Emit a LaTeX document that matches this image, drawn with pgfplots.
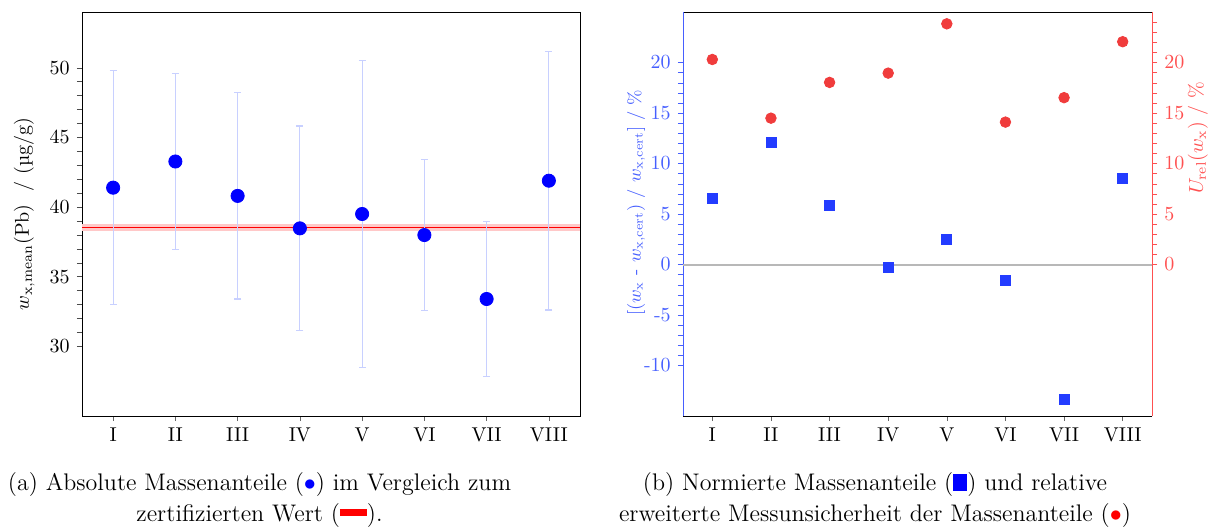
\documentclass[border=0pt]{standalone}
\usepackage{pgfplots}
\pgfplotsset{compat=1.18}
\usepackage{pgfplotstable}
\definecolor{errblue}{RGB}{200,208,255}
\definecolor{bandred}{RGB}{255,200,200}
\definecolor{sqblue}{RGB}{35,60,255}
\definecolor{dotred}{RGB}{240,60,60}
\definecolor{axblue}{RGB}{70,95,255}
\definecolor{axred}{RGB}{255,80,80}

\pgfplotstableread{
x y ep em
1 41.39 8.40 8.40
2 43.27 6.30 6.30
3 40.80 7.40 7.40
4 38.47 7.35 7.35
5 39.50 11.03 11.03
6 37.99 5.40 5.40
7 33.40 5.56 5.56
8 41.89 9.28 9.28
}\abs

\pgfplotstableread{
x d u
1 6.53 20.30
2 12.12 14.49
3 5.84 18.03
4 -0.26 18.95
5 2.45 23.83
6 -1.58 14.10
7 -13.40 16.52
8 8.49 22.06
}\rel

\begin{document}
\begin{tikzpicture}
\useasboundingbox (0,0) rectangle (604.5pt,263.5pt);
\pgfplotsset{
  every axis/.append style={scale only axis, height=202pt, xmin=0.5, xmax=8.5,
    xtick={1,...,8}, xticklabels={I,II,III,IV,V,VI,VII,VIII},
    xtick pos=bottom, tick align=outside, major tick length=2.6pt, minor tick length=2.6pt,
    x tick style={black!60}},
}
% ---------- (a) ----------
\begin{axis}[
  at={(41pt,55.5pt)}, anchor=south west, width=249pt,
  ymin=25, ymax=54, ytick={30,35,...,50}, minor y tick num=4,
  ytick pos=left, y tick style={black!70},
  ylabel={$w_{\mathrm{x,mean}}$(Pb)\ \ / (µg/g)},
  ylabel style={at={(axis description cs:-0.116,0.5)}, anchor=center},
]
\addplot[bandred, line width=3.4pt, forget plot] coordinates {(0.5,38.53) (8.5,38.53)};
\addplot[red, line width=0.5pt, forget plot] coordinates {(0.5,38.53) (8.5,38.53)};
\addplot[only marks, mark=*, mark size=3.3pt, mark options={blue, draw=blue, fill=blue},
  error bars/.cd, y dir=both, y explicit,
  error bar style={errblue, line width=0.6pt},
  error mark options={rotate=90, errblue, mark size=1.8pt, line width=0.6pt}]
  table[x=x, y=y, y error plus=ep, y error minus=em] {\abs};
\end{axis}
\node[anchor=base] at (129.75pt,18.25pt) {\fontsize{12}{14.5}\selectfont (a) Absolute Massenanteile (\textcolor{blue}{$\bullet$}) im Vergleich zum};
\node[anchor=base] at (129.75pt,2.75pt) {\fontsize{12}{14.5}\selectfont zertifizierten Wert (\textcolor{red}{\rule[0.22em]{13.5pt}{3.5pt}}).};
% ---------- (b) ----------
\begin{axis}[
  at={(341.5pt,55.5pt)}, anchor=south west, width=234.5pt,
  ymin=-15, ymax=25, ytick={-10,-5,0,5,10,15,20}, yticklabels={-10,-5,0,5,10,15,20},
  minor y tick num=4,
  ytick pos=left, separate axis lines,
  y axis line style={axblue}, y tick style={axblue}, yticklabel style={axblue},
  ylabel={\fontsize{9}{11}\selectfont [($w_{\mathrm{x}}$ - $w_{\mathrm{x,cert}}$) / $w_{\mathrm{x,cert}}$] / \%},
  ylabel style={axblue, at={(axis description cs:-0.100,0.528)}, anchor=center},
]
\addplot[black!28, line width=1pt, forget plot] coordinates {(0.5,0) (8.5,0)};
\addplot[only marks, mark=square*, mark size=2.5pt, mark options={sqblue, draw=sqblue, fill=sqblue}]
  table[x=x, y=d] {\rel};
\end{axis}
\begin{axis}[
  at={(341.5pt,55.5pt)}, anchor=south west, width=234.5pt,
  ymin=-15, ymax=25, ytick={0,5,...,20}, minor ytick={0,...,24},
  axis x line=none, axis y line*=right,
  y axis line style={axred}, y tick style={axred}, yticklabel style={axred},
  ylabel={$U_{\mathrm{rel}}$($w_{\mathrm{x}}$) / \%},
  ylabel style={axred, at={(axis description cs:1.098,0.688)}, anchor=center},
]
\addplot[only marks, mark=*, mark size=2.65pt, mark options={dotred, draw=dotred, fill=dotred}]
  table[x=x, y=u] {\rel};
\end{axis}
\node[anchor=base] at (437.5pt,18.25pt) {\fontsize{12}{14.5}\selectfont (b) Normierte Massenanteile (\textcolor{blue}{\rule[-0.3pt]{7pt}{8.5pt}}) und relative};
\node[anchor=base] at (437.5pt,2.75pt) {\fontsize{12}{14.5}\selectfont erweiterte Messunsicherheit der Massenanteile (\textcolor{red}{$\bullet$})};
\end{tikzpicture}
\end{document}
